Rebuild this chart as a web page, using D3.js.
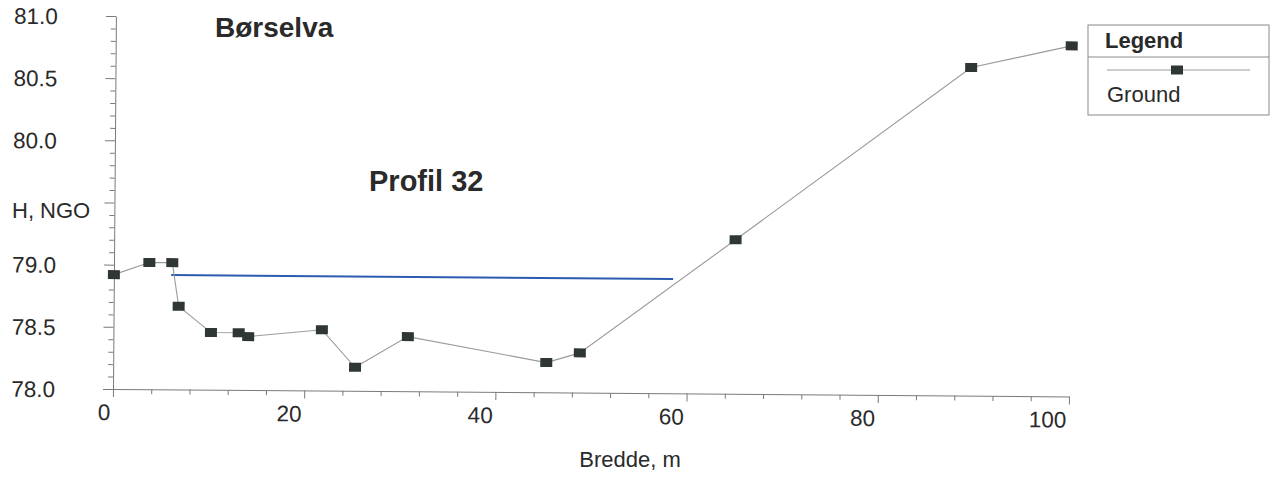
<!DOCTYPE html>
<html>
<head>
<meta charset="utf-8">
<script src="https://cdn.jsdelivr.net/npm/d3@7"></script>
<style>
  html, body { margin: 0; padding: 0; background: #fff; }
  svg { display: block; }
  text { font-family: "Liberation Sans", Arial, Helvetica, sans-serif; fill: #2a2a2a; }
</style>
</head>
<body>
<svg id="chart" width="1275" height="477"></svg>
<script>
// ---- data ----
const distance = [0.0, 3.7, 6.1, 6.8, 10.2, 13.1, 14.1, 21.8, 25.3, 30.8, 45.3, 48.8, 65.0, 89.5, 100.0];
const ground   = [78.92, 79.02, 79.02, 78.67, 78.46, 78.46, 78.43, 78.49, 78.19, 78.44, 78.24, 78.32, 79.24, 80.64, 80.82];
const waterX = [6.0, 58.5];
const waterY = [78.92, 78.92];
const xMajorTicks = [0, 20, 40, 60, 80, 100];
const xMinorTicks = [4, 8, 12, 16, 24, 28, 32, 36, 44, 48, 52, 56, 64, 68, 72, 76, 84, 88, 92, 96];
const yMajorTicks = [78.0, 78.5, 79.0, 79.5, 80.0, 80.5, 81.0];
const yTickLabels = ["78.0", "78.5", "79.0", "", "80.0", "80.5", "81.0"];
const yMinorTicks = [78.1, 78.2, 78.3, 78.4, 78.6, 78.7, 78.8, 78.9, 79.1, 79.2, 79.3, 79.4, 79.6, 79.7, 79.8, 79.9, 80.1, 80.2, 80.3, 80.4, 80.6, 80.7, 80.8, 80.9];
const titleText = "Børselva";
const subtitleText = "Profil 32";
const xLabel = "Bredde, m";
const yLabel = "H, NGO";
const legendTitle = "Legend";
const seriesName = "Ground";

const svg = d3.select("#chart");
const x = d3.scaleLinear().domain([0, 100]).range([113, 1069]);
const y = d3.scaleLinear().domain([78, 81]).range([389, 16]);

// the scanned page is tilted very slightly; rotate the plot around the origin
const plot = svg.append("g").attr("transform", "rotate(0.45," + x(0) + "," + y(78) + ")");

const axisColor = "#7a7a7a";

// X axis
const xMinor = plot.append("g").attr("transform", `translate(0,${y(78)})`)
  .call(d3.axisBottom(x).tickValues(xMinorTicks).tickSize(5).tickFormat(""));
const xMajor = plot.append("g").attr("transform", `translate(0,${y(78)})`)
  .call(d3.axisBottom(x).tickValues(xMajorTicks).tickSize(8).tickSizeOuter(0).tickFormat(d3.format("d")));
[xMinor, xMajor].forEach(g => {
  g.selectAll("path.domain").attr("stroke", axisColor).attr("stroke-width", 1);
  g.selectAll(".tick line").attr("stroke", axisColor).attr("stroke-width", 1);
});
xMinor.select("path.domain").remove();
xMajor.selectAll(".tick text")
  .attr("font-size", 22.5).attr("fill", "#2a2a2a")
  .attr("text-anchor", "end").attr("x", -3).attr("y", 31).attr("dy", 0);

// Y axis
const yMinor = plot.append("g").attr("transform", `translate(${x(0)},0)`)
  .call(d3.axisLeft(y).tickValues(yMinorTicks).tickSize(5).tickFormat(""));
const yMajor = plot.append("g").attr("transform", `translate(${x(0)},0)`)
  .call(d3.axisLeft(y).tickValues(yMajorTicks).tickSize(10).tickSizeOuter(0)
    .tickFormat((d, i) => yTickLabels[i]));
[yMinor, yMajor].forEach(g => {
  g.selectAll("path.domain").attr("stroke", axisColor).attr("stroke-width", 1);
  g.selectAll(".tick line").attr("stroke", axisColor).attr("stroke-width", 1);
});
yMinor.select("path.domain").remove();
yMajor.selectAll(".tick text")
  .attr("font-size", 22.5).attr("fill", "#2a2a2a")
  .attr("x", -58).attr("dy", "0.36em");
svg.selectAll(".tick text").attr("font-family", "'Liberation Sans', Arial, sans-serif");

// water level (blue)
plot.append("path")
  .datum(waterX.map((d, i) => [d, waterY[i]]))
  .attr("fill", "none").attr("stroke", "#2a5bb0").attr("stroke-width", 2)
  .attr("d", d3.line().x(d => x(d[0])).y(d => y(d[1])));

// ground line
const pts = distance.map((d, i) => [d, ground[i]]);
plot.append("path")
  .datum(pts)
  .attr("fill", "none").attr("stroke", "#9a9a9a").attr("stroke-width", 1.1)
  .attr("d", d3.line().x(d => x(d[0])).y(d => y(d[1])));

const mw = 12, mh = 9;
plot.selectAll("rect.marker").data(pts).enter().append("rect")
  .attr("class", "marker")
  .attr("x", d => x(d[0]) - mw / 2).attr("y", d => y(d[1]) - mh / 2)
  .attr("width", mw).attr("height", mh)
  .attr("fill", "#2f3735");

// titles
svg.append("text").attr("x", 215).attr("y", 37).attr("font-size", 28).attr("font-weight", "bold")
  .attr("fill", "#333").text(titleText);
svg.append("text").attr("x", 369).attr("y", 191).attr("font-size", 29).attr("font-weight", "bold")
  .attr("fill", "#333").text(subtitleText);
svg.append("text").attr("x", 12).attr("y", 218).attr("font-size", 22).text(yLabel);
svg.append("text").attr("x", 630).attr("y", 467).attr("font-size", 22).attr("text-anchor", "middle").text(xLabel);

// legend
const lg = svg.append("g");
lg.append("rect").attr("x", 1088).attr("y", 25).attr("width", 181).attr("height", 90)
  .attr("fill", "#fff").attr("stroke", "#8a8a8a").attr("stroke-width", 1);
lg.append("line").attr("x1", 1088).attr("x2", 1269).attr("y1", 57).attr("y2", 57)
  .attr("stroke", "#8a8a8a").attr("stroke-width", 1);
lg.append("text").attr("x", 1105).attr("y", 48).attr("font-size", 22).attr("font-weight", "bold").text(legendTitle);
lg.append("line").attr("x1", 1107).attr("x2", 1250).attr("y1", 70).attr("y2", 70)
  .attr("stroke", "#9a9a9a").attr("stroke-width", 1);
lg.append("rect").attr("x", 1177 - mw / 2).attr("y", 70 - mh / 2).attr("width", mw).attr("height", mh)
  .attr("fill", "#2f3735");
lg.append("text").attr("x", 1107).attr("y", 102).attr("font-size", 22).text(seriesName);
</script>
</body>
</html>
